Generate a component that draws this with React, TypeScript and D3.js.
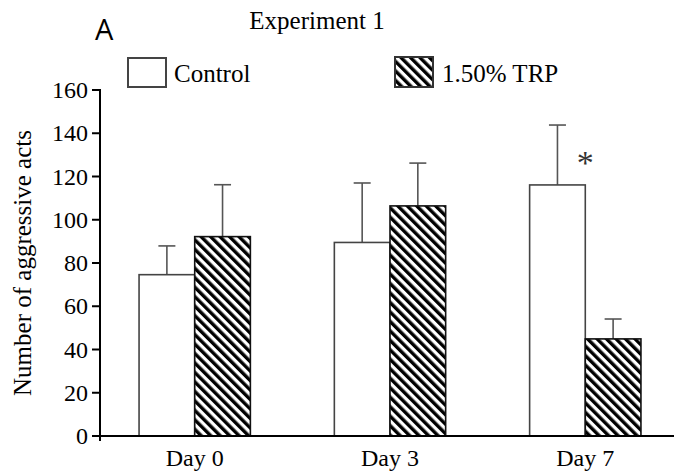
import React from "react";
import * as d3 from "d3";

const days = ["Day 0", "Day 3", "Day 7"];
const groups = ["Control", "1.50% TRP"];
const controlMean = [74.6, 89.5, 116.1];
const controlSem = [13.3, 27.5, 27.7];
const trpMean = [92.2, 106.4, 44.9];
const trpSem = [24, 19.8, 9.2];
const yTicks = [0, 20, 40, 60, 80, 100, 120, 140, 160];
const starDay = "Day 7";

const width = 674;
const height = 471;
const serif = "'Liberation Serif', 'Times New Roman', serif";

export default function App() {
  const x = d3.scaleBand().domain(days).range([100, 680]).paddingInner(0.43).paddingOuter(0.2);
  const xSub = d3.scaleBand().domain(groups).range([0, x.bandwidth()]);
  const y = d3.scaleLinear().domain([0, 160]).range([436, 90]);

  const series = [
    { key: groups[0], mean: controlMean, sem: controlSem, fill: "#fff", stroke: "#444" },
    { key: groups[1], mean: trpMean, sem: trpSem, fill: "url(#hatch)", stroke: "#111" }
  ];

  return (
    <div style={{ position: "absolute", left: 0, top: 0 }}>
      <svg width={width} height={height} style={{ display: "block", background: "#fff" }}>
        <defs>
          <pattern id="hatch" patternUnits="userSpaceOnUse" width="6.7" height="6.7" patternTransform="rotate(-45)">
            <rect width="6.7" height="6.7" fill="#fff" />
            <line x1="1.7" y1="0" x2="1.7" y2="6.7" stroke="#000" strokeWidth="3.4" />
          </pattern>
        </defs>

        <text x={95} y={40} fontFamily="'Open Sans', sans-serif" fontSize={29}>A</text>
        <text x={317} y={29} textAnchor="middle" fontFamily={serif} fontSize={25}>Experiment 1</text>

        {/* legend */}
        <rect x={128} y={58} width={38} height={29} fill="#fff" stroke="#444" strokeWidth={2} />
        <text x={174} y={82} fontFamily={serif} fontSize={25}>{groups[0]}</text>
        <rect x={395} y={57} width={38} height={30} fill="url(#hatch)" stroke="#333" strokeWidth={2} />
        <text x={442} y={82} fontFamily={serif} fontSize={25}>{groups[1]}</text>

        {series.map(s =>
          days.map((d, i) => {
            const bx = x(d)! + xSub(s.key)!;
            const cx = bx + xSub.bandwidth() / 2;
            const top = y(s.mean[i]);
            const errTop = y(s.mean[i] + s.sem[i]);
            return (
              <g key={s.key + d}>
                <line x1={cx} x2={cx} y1={top} y2={errTop} stroke="#555" strokeWidth={1.6} />
                <line x1={cx - 8.5} x2={cx + 8.5} y1={errTop} y2={errTop} stroke="#555" strokeWidth={1.6} />
                <rect x={bx} y={top} width={xSub.bandwidth()} height={y(0) - top} fill={s.fill} stroke={s.stroke} strokeWidth={1.6} />
              </g>
            );
          })
        )}

        <text
          x={x(starDay)! + x.bandwidth() / 2}
          y={y(controlMean[2] + controlSem[2]) + 49}
          textAnchor="middle"
          fontFamily={serif}
          fontSize={34}
          fill="#333"
        >*</text>

        {/* axes */}
        <line x1={100} x2={100} y1={89} y2={441} stroke="#000" strokeWidth={2} />
        <line x1={92} x2={674} y1={y(0)} y2={y(0)} stroke="#000" strokeWidth={2.2} />
        {yTicks.map(t => (
          <g key={t}>
            <line x1={92} x2={100} y1={y(t)} y2={y(t)} stroke="#000" strokeWidth={2} />
            <text x={88} y={y(t)} dy="0.34em" textAnchor="end" fontFamily={serif} fontSize={24}>{t}</text>
          </g>
        ))}
        {days.map(d => (
          <text key={d} x={x(d)! + x.bandwidth() / 2} y={466} textAnchor="middle" fontFamily={serif} fontSize={24}>{d}</text>
        ))}
        <text
          transform={`translate(31,263) rotate(-90)`}
          textAnchor="middle"
          fontFamily={serif}
          fontSize={25}
        >Number of aggressive acts</text>
      </svg>
    </div>
  );
}
